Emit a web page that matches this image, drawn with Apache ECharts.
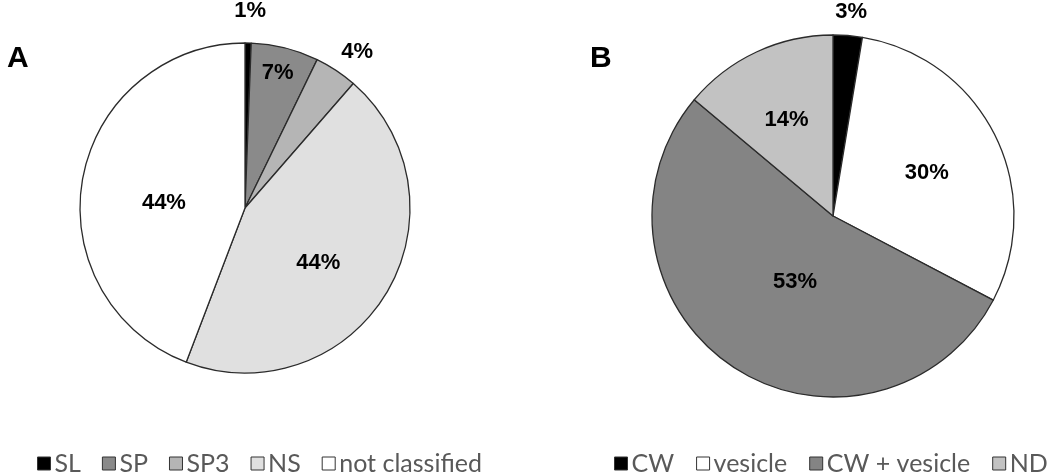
<!DOCTYPE html>
<html>
<head>
<meta charset="utf-8">
<script src="https://cdn.jsdelivr.net/npm/echarts@6/dist/echarts.min.js"></script>
<style>
html,body{margin:0;padding:0;background:#fff;}
#chart{width:1050px;height:474px;}
</style>
</head>
<body>
<div id="chart"></div>
<script>
// ---- data ----
const categoriesA = ['SL', 'SP', 'SP3', 'NS', 'not classified'];
const valuesA = [0.6, 6.6, 4.2, 44.4, 44.2];
const categoriesB = ['CW', 'vesicle', 'CW + vesicle', 'ND'];
const valuesB = [2.6, 30.1, 53.4, 13.9];

// ---- styles ----
const colorsA = ['#000000', '#8a8a8a', '#b5b5b5', '#e0e0e0', '#ffffff'];
const colorsB = ['#000000', '#ffffff', '#848484', '#c2c2c2'];
const outsideA = {'SL': true, 'SP3': true};
const outsideB = {'CW': true};
// label nudges [dx, dy] (style only), by category index
const nudgeA = [[-19, -26], [12, -52], [-3, -13], [0, 11], [3, 10]];
const nudgeB = [[-18, -18], [10, -1], [14, -12], [-7, -11]];

function buildData(cats, vals, colors, outside) {
  return cats.map((c, i) => ({
    name: c,
    value: vals[i],
    itemStyle: {color: colors[i]},
    label: outside[c] ? {position: 'outside'} : {position: 'inside'},
    labelLine: {show: false}
  }));
}

const labelStyle = {
  show: true,
  formatter: p => Math.round(p.percent) + '%',
  fontFamily: 'Liberation Sans, Arial, sans-serif',
  fontWeight: 'bold',
  fontSize: 22,
  color: '#000'
};

function pie(center, radius, cats, vals, colors, outside, nudge) {
  return {
    type: 'pie',
    center: center,
    radius: radius,
    startAngle: 90,
    clockwise: true,
    avoidLabelOverlap: false,
    minShowLabelAngle: 0,
    silent: true,
    animation: false,
    itemStyle: {borderColor: '#2b2b2b', borderWidth: 1.3},
    label: labelStyle,
    labelLine: {show: false, length: 6, length2: 0},
    labelLayout: function (p) {
      const n = nudge[p.dataIndex] || [0, 0];
      return {dx: n[0], dy: n[1]};
    },
    data: buildData(cats, vals, colors, outside)
  };
}

const legendText = {fontFamily: 'Lato, Open Sans, sans-serif', fontSize: 25, color: '#595959', padding: [0, 0, 0, -1]};
const titleText = {fontFamily: 'Liberation Sans, Arial, sans-serif', fontWeight: 'bold', fontSize: 30, color: '#000'};
const chart = echarts.init(document.getElementById('chart'), null, {renderer: 'canvas'});
chart.setOption({
  animation: false,
  backgroundColor: '#ffffff',
  title: [
    {text: 'A', left: 2, top: 39, textStyle: titleText},
    {text: 'B', left: 585, top: 39, textStyle: titleText}
  ],
  legend: [
    {
      data: categoriesA, left: 32, top: 446, width: 520, orient: 'horizontal',
      itemWidth: 13, itemHeight: 13, itemGap: 21, icon: 'rect', selectedMode: false,
      itemStyle: {borderColor: '#333', borderWidth: 1},
      textStyle: legendText
    },
    {
      data: categoriesB, left: 609, top: 446, width: 480, orient: 'horizontal',
      itemWidth: 13, itemHeight: 13, itemGap: 22, icon: 'rect', selectedMode: false,
      itemStyle: {borderColor: '#333', borderWidth: 1},
      textStyle: legendText
    }
  ],
  series: [
    pie([245, 208], 165, categoriesA, valuesA, colorsA, outsideA, nudgeA),
    pie([833, 216], 181, categoriesB, valuesB, colorsB, outsideB, nudgeB)
  ]
});
</script>
</body>
</html>
